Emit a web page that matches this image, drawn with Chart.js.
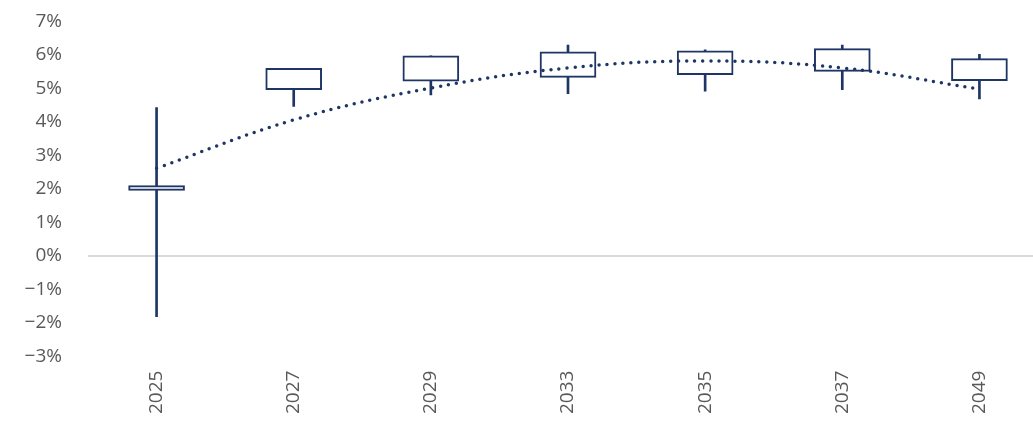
<!DOCTYPE html>
<html><head><meta charset="utf-8">
<script src="https://cdn.jsdelivr.net/npm/chart.js@4"></script>
<style>html,body{margin:0;padding:0;background:#fff;overflow:hidden}#w{width:1048px;height:436px;margin-top:-16px}</style>
</head><body><div id="w"><canvas id="c"></canvas></div>
<script>
const categories=["2025","2027","2029","2033","2035","2037","2049"];
const boxLow=[1.96,4.96,5.22,5.33,5.41,5.51,5.23];
const boxHigh=[2.10,5.60,5.97,6.09,6.12,6.19,5.89];
const whiskerLow=[-1.81,4.46,4.81,4.84,4.92,4.96,4.69];
const whiskerHigh=[4.43,5.60,5.97,6.29,6.15,6.29,6.02];
const trend=[2.62,4.06,5.01,5.61,5.82,5.61,4.98];
const navy="#1f3566";
new Chart(document.getElementById('c'),{
 data:{labels:categories,datasets:[
  {type:'line',data:trend,borderColor:navy,borderWidth:3.5,borderDash:[0,8],borderCapStyle:'round',pointRadius:0,tension:0.4,order:0},
  {type:'bar',data:categories.map((c,i)=>[boxLow[i],boxHigh[i]]),backgroundColor:'#fff',borderColor:navy,borderWidth:2,borderSkipped:false,barThickness:56,grouped:false,order:1},
  {type:'bar',data:categories.map((c,i)=>[whiskerLow[i],whiskerHigh[i]]),backgroundColor:navy,barThickness:2,grouped:false,order:2}
 ]},
 options:{responsive:true,maintainAspectRatio:false,animation:false,
  layout:{padding:{left:0,right:0,top:10,bottom:0}},
  plugins:{legend:{display:false},tooltip:{enabled:false}},
  scales:{
   x:{grid:{display:false},border:{display:false},ticks:{color:'#595959',font:{family:'Open Sans',size:19},maxRotation:90,minRotation:90,padding:6}},
   y:{min:-3,max:7,afterFit:s=>{s.width=88},border:{display:false},
      grid:{color:c=>c.tick.value===0?'#d9d9d9':'transparent',lineWidth:2,drawTicks:false},
      ticks:{stepSize:1,padding:26,color:'#595959',font:{family:'Open Sans',size:19},callback:v=>(v<0?'\u2212'+(-v):v)+'%'}}
  }}
});
</script></body></html>
